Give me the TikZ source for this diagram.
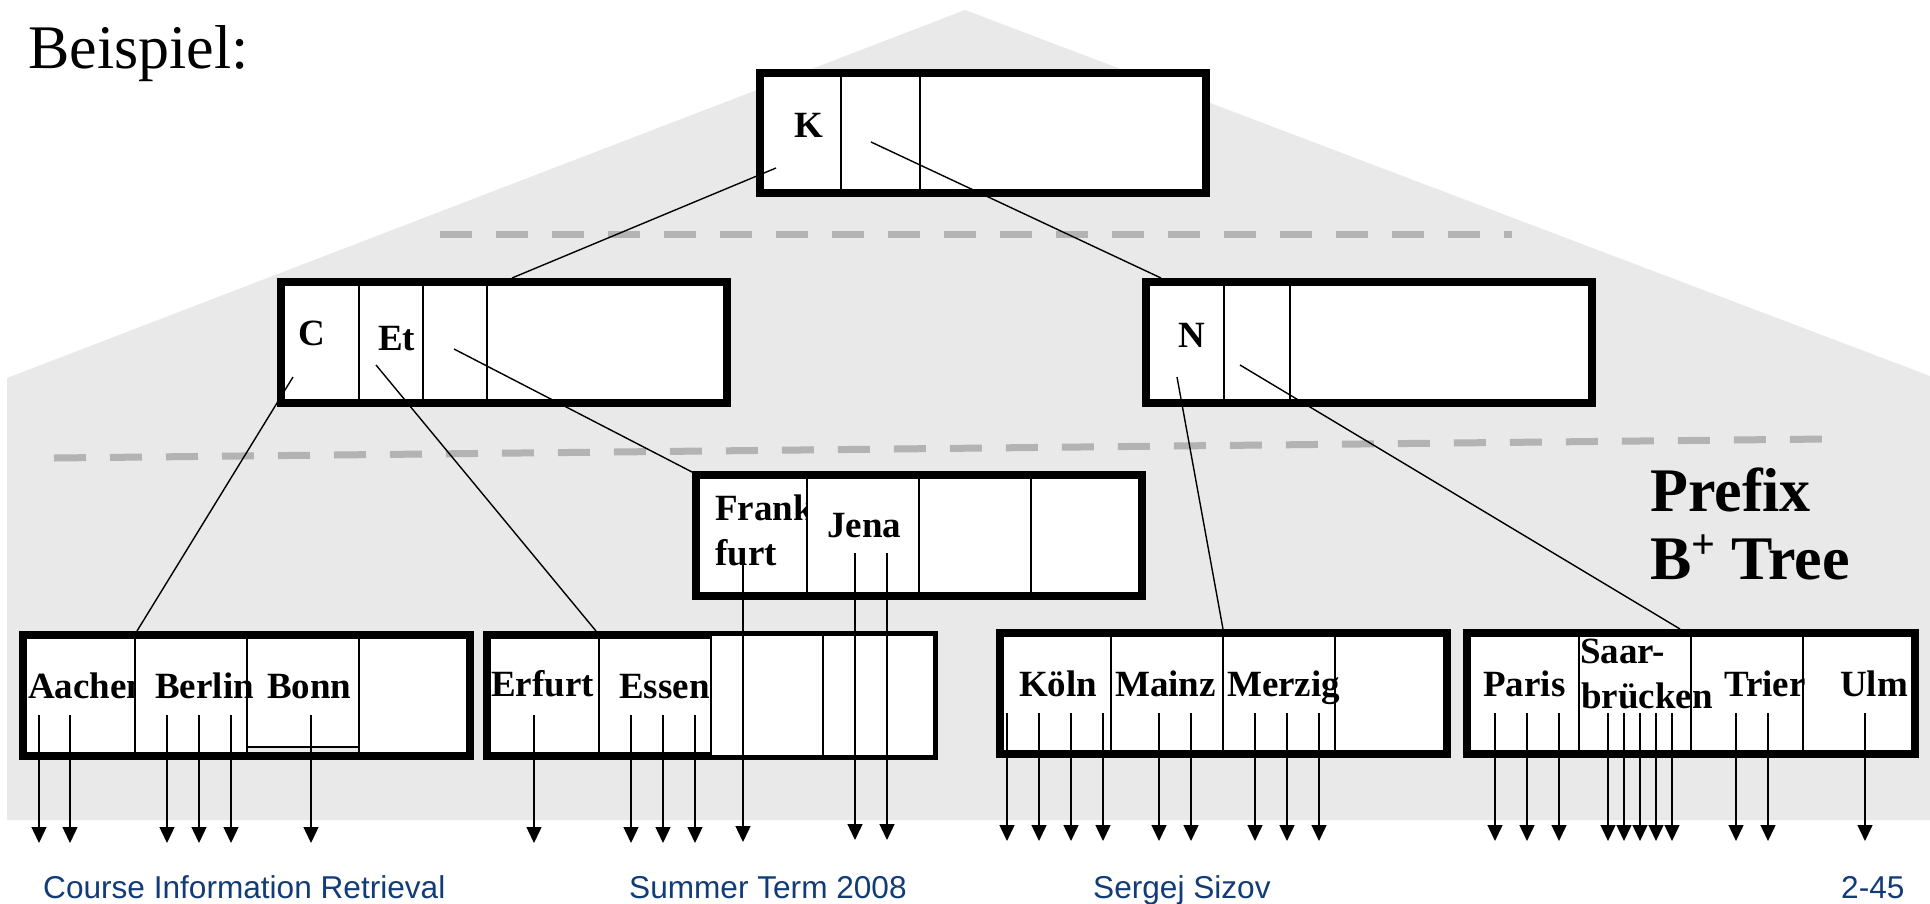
\documentclass[tikz,border=0pt]{standalone}
\usepackage{fontspec}
\setmainfont{Liberation Serif}
\newfontfamily\footfont{Liberation Sans}
\usetikzlibrary{arrows.meta}

\definecolor{bggray}{RGB}{233,233,233}
\definecolor{dashgray}{RGB}{179,179,179}
\definecolor{footblue}{RGB}{18,60,120}

\tikzset{
  bnode/.style={draw=black, line width=8pt, fill=white, inner sep=0pt, outer sep=0pt},
  divider/.style={line width=1.4pt},
  link/.style={line width=1.4pt},
  ptr/.style={line width=1.4pt, -{Triangle[length=16pt,width=15pt]}},
  key/.style={font=\fontsize{37}{45}\selectfont\bfseries, inner sep=0pt, anchor=base west},
  keyc/.style={key, anchor=base},
  level/.style={draw=dashgray, line width=7pt, dash pattern=on 32pt off 24pt},
  foot/.style={font=\footfont\fontsize{31.6}{36}\selectfont, text=footblue, inner sep=0pt, anchor=base west},
  title/.style={font=\fontsize{62}{70}\selectfont, inner sep=0pt, anchor=base west},
  label/.style={font=\fontsize{62}{70}\selectfont\bfseries, inner sep=0pt, anchor=base west},
}

\begin{document}
\begin{tikzpicture}[x=1pt,y=-1pt]
\useasboundingbox (0,0) rectangle (1930,903);

% shaded house-shaped background
\fill[bggray] (7,378) -- (965,10) -- (1930,376) -- (1930,820) -- (7,820) -- cycle;

% level separators
\draw[level] (440,234) -- (1512,234);
\draw[level] (54,458) -- (1826,439);

% ---------- tree nodes ----------
% root
\node[bnode, minimum width=446, minimum height=120] (root) at (983,133) {};
\foreach \x in {841,920} \draw[divider] (\x,73) -- (\x,193);
\node[keyc] (kK) at (809,137) {K};

% inner level
\node[bnode, minimum width=446, minimum height=121] (nC) at (504,342.5) {};
\foreach \x in {359,423,487} \draw[divider] (\x,282) -- (\x,403);
\node[keyc] (kC) at (312,345) {C};
\node[key] (kEt) at (378,350) {Et};

\node[bnode, minimum width=446, minimum height=121] (nN) at (1369,342.5) {};
\foreach \x in {1224,1290} \draw[divider] (\x,282) -- (\x,403);
\node[keyc] (kN) at (1192,347) {N};

\node[bnode, minimum width=446, minimum height=121] (nF) at (919,535.5) {};
\foreach \x in {807,919,1031} \draw[divider] (\x,475) -- (\x,596);
\begin{scope}
  \clip (700,479) rectangle (807,592);
  \node[key] (kFrank) at (715,520) {Frank};
  \node[key] (kfurt) at (715,565) {furt};
\end{scope}
\node[key] (kJena) at (827,537) {Jena};

% leaves
\node[bnode, minimum width=447, minimum height=121] (lA) at (246.5,695.5) {};
\begin{scope}
  \clip (27,639) rectangle (135,752);
  \node[key] (kAachen) at (28,698) {Aachen};
\end{scope}
\node[key] (kBerlin) at (155,698) {Berlin};
\node[key] (kBonn) at (267,698) {Bonn};
\fill[bggray] (247,748) rectangle (359,752);
\draw[divider] (247,747) -- (359,747);
\foreach \x in {135,247,359} \draw[divider] (\x,635) -- (\x,756);

\node[bnode, minimum width=447, minimum height=121] (lE) at (710.5,695.5) {};
\node[key] (kErfurt) at (491,696) {Erfurt};
\node[key] (kEssen) at (619,698) {Essen};
\draw[divider] (599,635) -- (599,756);
\draw[divider, fill=white] (711,635) rectangle (934,756);
\draw[divider] (823,635) -- (823,756);

\node[bnode, minimum width=447, minimum height=121] (lK) at (1223.5,693.5) {};
\foreach \x in {1111,1223,1335} \draw[divider] (\x,633) -- (\x,754);
\node[key] (kKoeln) at (1019,696) {Köln};
\node[key] (kMainz) at (1115,696) {Mainz};
\node[key] (kMerzig) at (1227,696) {Merzig};

\node[bnode, minimum width=448, minimum height=121] (lP) at (1691,693.5) {};
\foreach \x in {1579,1691,1803} \draw[divider] (\x,633) -- (\x,754);
\node[key] (kParis) at (1483,696) {Paris};
\node[key] (kSaar) at (1580,663) {Saar-};
\node[key] (kbruecken) at (1581,708) {brücken};
\node[key] (kTrier) at (1724,696) {Trier};
\node[key] (kUlm) at (1840,696) {Ulm};

% ---------- child pointers ----------
\coordinate (rp1) at (776,168);   \coordinate (cIn) at (512,278);
\coordinate (rp2) at (871,142);   \coordinate (nIn) at (1161,278);
\coordinate (cp1) at (293,377);   \coordinate (aIn) at (137,631);
\coordinate (cp2) at (376,365);   \coordinate (eIn) at (596,631);
\coordinate (cp3) at (454,349);   \coordinate (fIn) at (692,472);
\coordinate (np1) at (1177,377);  \coordinate (kIn) at (1223,629);
\coordinate (np2) at (1240,365);  \coordinate (pIn) at (1680,629);
\draw[link] (rp1) -- (cIn);
\draw[link] (rp2) -- (nIn);
\draw[link] (cp1) -- (aIn);
\draw[link] (cp2) -- (eIn);
\draw[link] (cp3) -- (fIn);
\draw[link] (np1) -- (kIn);
\draw[link] (np2) -- (pIn);

% ---------- record pointers ----------
\foreach \x in {39,70,167,199,231,311,534,631,663,695} {
  \coordinate (s\x) at (\x,715); \coordinate (t\x) at (\x,843);
  \draw[ptr] (s\x) -- (t\x);
}
\coordinate (sFr) at (743,563); \coordinate (tFr) at (743,842);
\draw[ptr] (sFr) -- (tFr);
\foreach \x in {855,887} {
  \coordinate (s\x) at (\x,553); \coordinate (t\x) at (\x,840);
  \draw[ptr] (s\x) -- (t\x);
}
\foreach \x in {1007,1039,1071,1103,1159,1191,1255,1287,1319,
                1495,1527,1559,1608,1624,1640,1656,1672,1736,1768,1865} {
  \coordinate (s\x) at (\x,713); \coordinate (t\x) at (\x,841);
  \draw[ptr] (s\x) -- (t\x);
}

% ---------- captions ----------
\node[title] (heading) at (28,68) {Beispiel:};
\node[label] (lab1) at (1650,511) {Prefix};
\node[label] (lab2) at (1650,579) {B\raisebox{21pt}{\fontsize{42}{42}\selectfont +}\hspace*{16pt}Tree};

\node[foot] (f1) at (43,898) {Course Information Retrieval};
\node[foot] (f2) at (629,898) {Summer Term 2008};
\node[foot] (f3) at (1093,898) {Sergej Sizov};
\node[foot] (f4) at (1841,898) {2-45};
\end{tikzpicture}
\end{document}
